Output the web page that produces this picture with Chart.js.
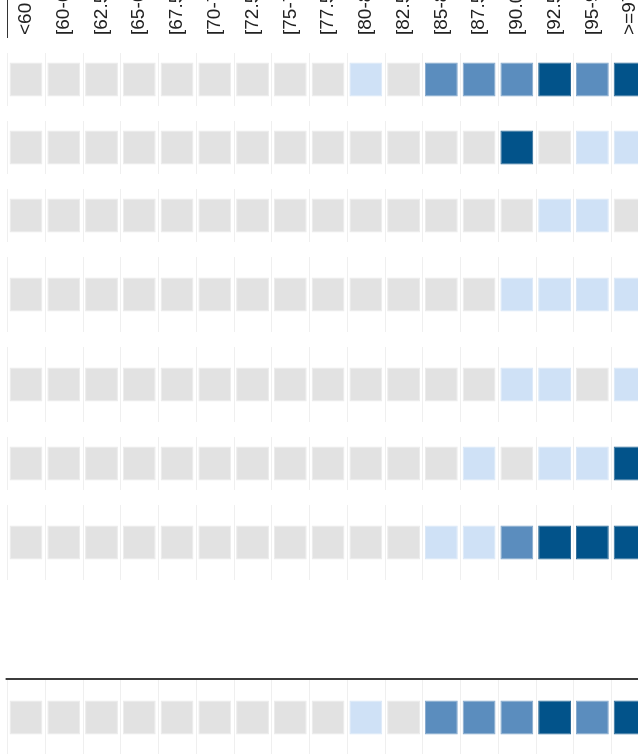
<!DOCTYPE html>
<html>
<head>
<meta charset="utf-8">
<script src="https://cdn.jsdelivr.net/npm/chart.js@4.4.1/dist/chart.umd.min.js"></script>
<style>
  html, body { margin: 0; padding: 0; background: #fff; overflow: hidden; }
  #wrap { position: relative; width: 638px; height: 754px; overflow: hidden; }
  #heat { position: absolute; left: 0; top: 0; }
</style>
</head>
<body>
<div id="wrap"><canvas id="heat" width="652" height="760"></canvas></div>
<script>
// score bins across the top
const bins = ['<60', '[60-62.5)', '[62.5-65)', '[65-67.5)', '[67.5-70)', '[70-72.5)',
  '[72.5-75)', '[75-77.5)', '[77.5-80)', '[80-82.5)', '[82.5-85)', '[85-87.5)',
  '[87.5-90)', '[90.0-92.5)', '[92.5-95)', '[95-97.5)', '>=97.5'];

// shade level per bin: 0 none, 1 low, 2 medium, 3 high
const row1 = [0, 0, 0, 0, 0, 0, 0, 0, 0, 1, 0, 2, 2, 2, 3, 2, 3];
const row2 = [0, 0, 0, 0, 0, 0, 0, 0, 0, 0, 0, 0, 0, 3, 0, 1, 1];
const row3 = [0, 0, 0, 0, 0, 0, 0, 0, 0, 0, 0, 0, 0, 0, 1, 1, 0];
const row4 = [0, 0, 0, 0, 0, 0, 0, 0, 0, 0, 0, 0, 0, 1, 1, 1, 1];
const row5 = [0, 0, 0, 0, 0, 0, 0, 0, 0, 0, 0, 0, 0, 1, 1, 0, 1];
const row6 = [0, 0, 0, 0, 0, 0, 0, 0, 0, 0, 0, 0, 1, 0, 1, 1, 3];
const row7 = [0, 0, 0, 0, 0, 0, 0, 0, 0, 0, 0, 1, 1, 2, 3, 3, 3];
const totalRow = [0, 0, 0, 0, 0, 0, 0, 0, 0, 1, 0, 2, 2, 2, 3, 2, 3];

const rows = [row1, row2, row3, row4, row5, row6, row7];

const fills = ['#e2e2e2', '#cfe1f6', '#5b8dbe', '#02538a'];
const edges = ['#ebebeb', '#d9e7f7', '#84a8cc', '#2f6c98'];

// table layout (row header text wraps to one or two lines)
const HEADER_H = 38, GAP = 15, SHORT = 53, TALL = 75, CELL = 34, TOTAL_GAP = 100;
const bandSize = [SHORT, SHORT, SHORT, TALL, TALL, SHORT, TALL];
const LABEL_SIZE = 19;

const bands = [];
let pos = 0;
rows.forEach((r, i) => {
  pos += GAP;
  bands.push([pos, pos + bandSize[i]]);
  pos += bandSize[i];
});
pos += TOTAL_GAP;
const totalLine = pos;
bands.push([pos, pos + TALL]);

const allRows = rows.concat([totalRow]);
const datasets = allRows.map((levels, i) => {
  const mid = (bands[i][0] + bands[i][1]) / 2;
  return {
    label: i < rows.length ? 'row ' + (i + 1) : 'Total',
    data: levels.map(() => [mid - CELL / 2, mid + CELL / 2]),
    backgroundColor: levels.map(l => fills[l]),
    borderColor: levels.map(l => edges[l]),
    borderWidth: 1,
    borderSkipped: false,
    grouped: false,
    barPercentage: 0.87,
    categoryPercentage: 1
  };
});

// faint column lines inside each band, total separator, header border
const tableLines = {
  id: 'tableLines',
  beforeDatasetsDraw(chart) {
    const { ctx, chartArea, scales: { x, y } } = chart;
    const step = x.getPixelForValue(1) - x.getPixelForValue(0);
    ctx.save();
    ctx.lineWidth = 1;
    ctx.strokeStyle = '#efefef';
    bands.forEach(([b0, b1]) => {
      for (let i = 0; i <= bins.length; i++) {
        const px = Math.round(x.getPixelForValue(i) - step / 2) + 0.5;
        ctx.beginPath();
        ctx.moveTo(px, y.getPixelForValue(b0));
        ctx.lineTo(px, y.getPixelForValue(b1));
        ctx.stroke();
      }
    });
    // total separator
    ctx.strokeStyle = '#3c3c3c';
    ctx.lineWidth = 2;
    const ty = Math.round(y.getPixelForValue(totalLine)) - 1;
    ctx.beginPath();
    ctx.moveTo(chartArea.left - 1.5, ty);
    ctx.lineTo(chart.width, ty);
    ctx.stroke();
    // header pane left border
    ctx.lineWidth = 1;
    ctx.strokeStyle = '#333';
    const hx = Math.round(chartArea.left) + 0.5;
    ctx.beginPath();
    ctx.moveTo(hx, 0);
    ctx.lineTo(hx, x.bottom);
    ctx.stroke();
    ctx.restore();
  }
};

new Chart(document.getElementById('heat'), {
  type: 'bar',
  data: { labels: bins, datasets },
  options: {
    responsive: false,
    animation: false,
    layout: { padding: { left: 6.5, right: 3, top: 0, bottom: 0 } },
    plugins: { legend: { display: false }, tooltip: { enabled: false } },
    scales: {
      x: {
        position: 'top',
        offset: true,
        grid: { display: false, drawTicks: false },
        border: { display: false },
        ticks: {
          autoSkip: false,
          minRotation: 90,
          maxRotation: 90,
          padding: 3,
          // rotated top labels sit one line height left of the tick; pull them back
          labelOffset: LABEL_SIZE * 1.2,
          color: '#222',
          font: { family: "'Liberation Sans', Arial, sans-serif", size: LABEL_SIZE }
        },
        afterFit(scale) { scale.height = HEADER_H; }
      },
      y: {
        display: false,
        reverse: true,
        min: 0,
        max: 722
      }
    }
  },
  plugins: [tableLines]
});
</script>
</body>
</html>
